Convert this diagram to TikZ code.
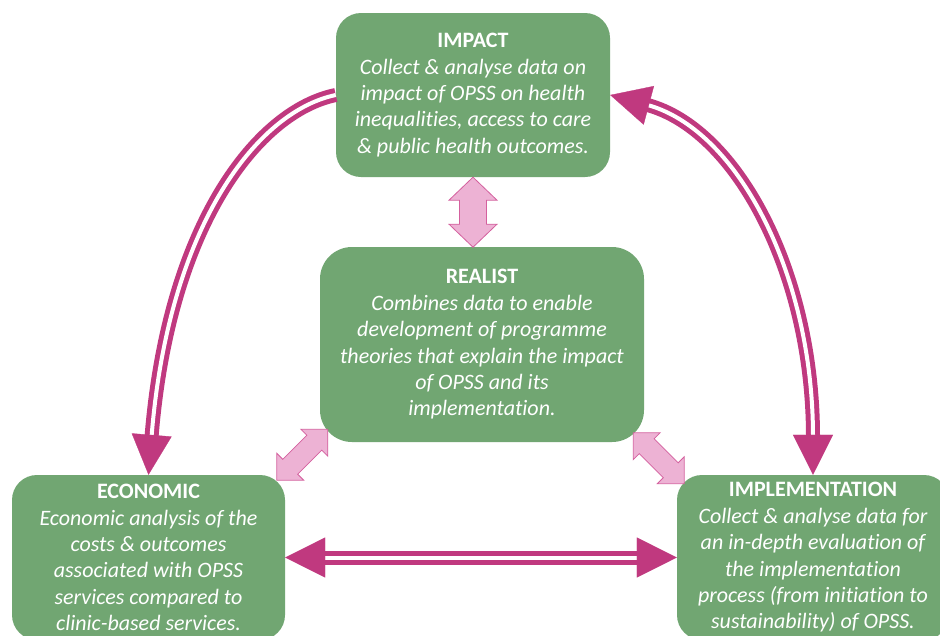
\documentclass[tikz,border=0pt]{standalone}
\usepackage{fontspec}
\setmainfont{Carlito}[Ligatures={NoCommon}]
\usetikzlibrary{arrows.meta,calc}
\definecolor{boxgreen}{HTML}{71A672}
\definecolor{mag}{HTML}{C0397F}
\definecolor{pinkfill}{HTML}{EDB2D4}
\definecolor{pinkline}{HTML}{D4609E}
\tikzset{
  box/.style={rectangle, fill=boxgreen, text=white, rounded corners=25pt, align=center,
    inner sep=0pt, font=\fontsize{22}{26.4}\selectfont\itshape},
  dbl/.style={draw=mag, line width=5pt, double=white, double distance=4pt},
  tipline/.style={draw=white, line width=0.3pt},
  headtip/.tip={Triangle[width=40pt,length=40pt,color=mag]},
  pinkarrow/.style={fill=pinkfill, draw=pinkline, line width=0.8pt, line join=miter},
  pics/blockarrow/.style args={#1/#2/#3/#4}{code={
    \path[pinkarrow] (#1,0) -- ({#1-#2},#3) -- ({#1-#2},#4) -- ({-#1+#2},#4) -- ({-#1+#2},#3)
      -- (-#1,0) -- ({-#1+#2},-#3) -- ({-#1+#2},-#4) -- ({#1-#2},-#4) -- ({#1-#2},-#3) -- cycle;
  }}
}
\newcommand{\ttlline}[1]{{\bfseries\upshape #1}}
\begin{document}
\begin{tikzpicture}[x=1pt,y=-1pt]
\useasboundingbox (0,0) rectangle (940,635);
\fill[white] (0,0) rectangle (940,635);
\clip (0,0) rectangle (940,635);

\node[box, minimum width=274pt, minimum height=164pt] (impact) at (473,95)
  {\ttlline{IMPACT}\\Collect \& analyse data on\\impact of OPSS on health\\inequalities, access to care\\\& public health outcomes.};
\node[box, rounded corners=32pt, minimum width=324pt, minimum height=195pt] (realist) at (482,344.5)
  {\ttlline{REALIST}\\Combines data to enable\\development of programme\\theories that explain the impact\\of OPSS and its\\implementation.};
\node[box, minimum width=273pt, minimum height=165pt] (economic) at (148.5,557.5)
  {\ttlline{ECONOMIC}\\Economic analysis of the\\costs \& outcomes\\associated with OPSS\\services compared to\\clinic-based services.};
\node[box, minimum width=272pt, minimum height=165pt] (implementation) at (813,557.5)
  {\ttlline{IMPLEMENTATION}\\Collect \& analyse data for\\an in-depth evaluation of\\the implementation\\process (from initiation to\\sustainability) of OPSS.};

% block arrows
\pic[rotate=90] at ($(impact.south)+(0,35)$) {blockarrow=35/23/24/13.5};
\pic[rotate=45] at ($(realist.south west)+(-17.5,12.5)$) {blockarrow=36/19/19/10.5};
\pic[rotate=-45] at ($(realist.south east)+(14.5,16)$) {blockarrow=36/19/19/10.5};

% magenta double arrows
\draw[dbl, shorten >=38pt] (impact.west) .. controls +(-78,16) and +(20,-250) .. (economic.north);
\draw[tipline, -headtip] (impact.west) .. controls +(-78,16) and +(20,-250) .. (economic.north);

\draw[dbl, shorten >=38pt, shorten <=38pt] (impact.east) .. controls +(127,34) and +(0,-201) .. (implementation.north);
\draw[tipline, headtip-headtip] (impact.east) .. controls +(127,34) and +(0,-201) .. (implementation.north);

\draw[dbl, shorten >=38pt, shorten <=38pt] (economic.east) -- (implementation.west);
\draw[tipline, headtip-headtip] (economic.east) -- (implementation.west);
\end{tikzpicture}
\end{document}
